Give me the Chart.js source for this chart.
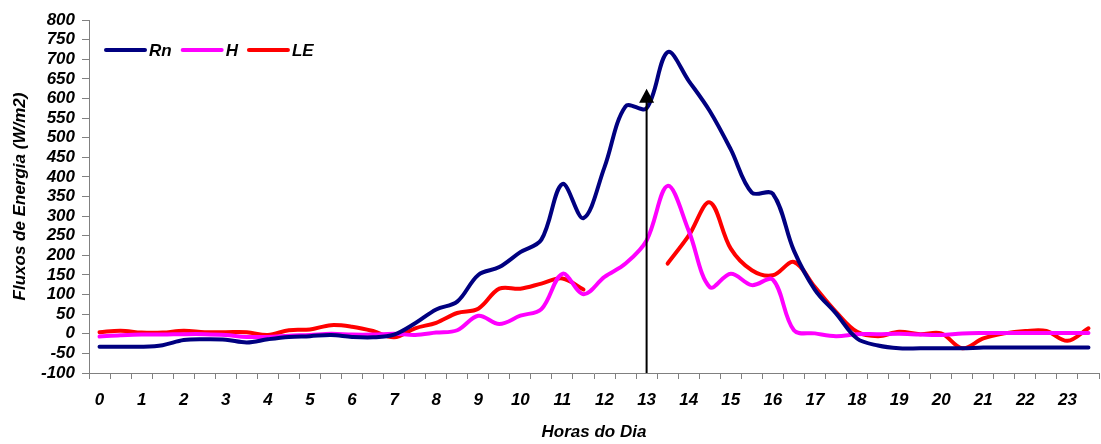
<!DOCTYPE html>
<html>
<head>
<meta charset="utf-8">
<script src="https://cdn.jsdelivr.net/npm/chart.js@4"></script>
<style>
  body { margin: 0; background: #fff; }
  canvas { display: block; }
</style>
</head>
<body>
<canvas id="fluxChart" width="1101" height="444"></canvas>
<script>
// half-hour steps, 0 .. 23.5
let hours = [0,0.5,1,1.5,2,2.5,3,3.5,4,4.5,5,5.5,6,6.5,7,7.5,8,8.5,9,9.5,10,10.5,11,11.5,
             12,12.5,13,13.5,14,14.5,15,15.5,16,16.5,17,17.5,18,18.5,19,19.5,20,20.5,21,21.5,22,22.5,23,23.5];

let rn_data = [-33,-33,-33,-29,-16,-14,-15,-22,-14,-8,-6,-3,-8,-9,-2,27,62,82,150,170,208,240,382,295,
               425,580,575,718,645,568,470,360,357,212,112,52,-12,-30,-37,-37,-37,-37,-35,-35,-35,-35,-35,-35];
let h_data = [-7,-4,-2,-2,-1,-1,-3,-8,-8,-5,-3,0,-2,-2,0,-3,3,9,46,25,46,63,153,101,
              145,179,238,377,263,119,153,124,138,9,1,-6,-1,-1,0,-2,-3,1,2,2,2,2,2,2];
let le_data = [4,8,3,3,8,4,4,4,-3,9,11,22,18,7,-9,14,28,53,64,115,115,128,141,113,
               null,null,null,179,250,335,217,162,149,183,119,56,5,-6,5,-1,1,-37,-12,1,7,7,-18,14];

let series_names = ["Rn", "H", "LE"];
let series_colors = ["#000080", "#ff00ff", "#ff0000"];

let y_min = -100;
let y_max = 800;
let y_step = 50;

// arrow marking 13h
let arrow_hour = 13;
let arrow_top = 625;

let axis_grey = "#808080";
let font_family = "'Liberation Sans', Arial, sans-serif";

Chart.defaults.font.family = font_family;
Chart.defaults.color = "#000";

const legendInside = {
  id: "legendInside",
  afterDraw(chart) {
    const ctx = chart.ctx;
    const area = chart.chartArea;
    let x = area.left + 17;
    const y = area.top + 30;
    ctx.save();
    ctx.font = "italic bold 17px " + font_family;
    ctx.textBaseline = "middle";
    chart.data.datasets.forEach(ds => {
      ctx.strokeStyle = ds.borderColor;
      ctx.lineWidth = 4;
      ctx.lineCap = "round";
      ctx.beginPath();
      ctx.moveTo(x, y);
      ctx.lineTo(x + 39, y);
      ctx.stroke();
      ctx.fillStyle = "#000";
      ctx.fillText(ds.label, x + 43, y + 1);
      x += 43 + ctx.measureText(ds.label).width + 11;
    });
    ctx.restore();
  }
};

const arrowMark = {
  id: "arrowMark",
  afterDatasetsDraw(chart) {
    const ctx = chart.ctx;
    const xs = chart.scales.x;
    const ys = chart.scales.y;
    const px = xs.getPixelForValue(hours.indexOf(arrow_hour));
    const tip = ys.getPixelForValue(arrow_top);
    ctx.save();
    ctx.strokeStyle = "#000";
    ctx.fillStyle = "#000";
    ctx.lineWidth = 2;
    ctx.beginPath();
    ctx.moveTo(px, chart.chartArea.bottom);
    ctx.lineTo(px, tip + 12);
    ctx.stroke();
    ctx.beginPath();
    ctx.moveTo(px, tip);
    ctx.lineTo(px - 7.5, tip + 14);
    ctx.lineTo(px + 7.5, tip + 14);
    ctx.closePath();
    ctx.fill();
    ctx.restore();
  }
};

let tick_font = { size: 17, weight: "bold", style: "italic" };

new Chart("fluxChart", {
  type: "line",
  data: {
    labels: hours,
    datasets: [
      { label: series_names[0], data: rn_data, borderColor: series_colors[0] },
      { label: series_names[1], data: h_data, borderColor: series_colors[1] },
      { label: series_names[2], data: le_data, borderColor: series_colors[2] }
    ]
  },
  options: {
    responsive: false,
    animation: false,
    devicePixelRatio: 1,
    spanGaps: false,
    layout: { padding: { left: 0, right: 2, top: 20, bottom: 0 } },
    elements: {
      line: { borderWidth: 4, tension: 0.35, fill: false, borderCapStyle: "round", borderJoinStyle: "round" },
      point: { radius: 0, hoverRadius: 0 }
    },
    plugins: {
      legend: { display: false },
      tooltip: { enabled: false }
    },
    scales: {
      x: {
        type: "category",
        offset: true,
        afterFit: s => { s.height = 71; },
        grid: { offset: true, drawOnChartArea: false, tickLength: 6, color: axis_grey },
        border: { color: axis_grey, width: 1 },
        ticks: {
          autoSkip: false,
          maxRotation: 0,
          padding: 11,
          font: tick_font,
          callback: (v, i) => hours[i] % 1 === 0 ? String(hours[i]) : ""
        },
        title: {
          display: true,
          text: "Horas do Dia",
          font: tick_font,
          padding: { top: 0, bottom: 1 }
        }
      },
      y: {
        min: y_min,
        max: y_max,
        afterFit: s => { s.width = 89; },
        grid: { drawOnChartArea: false, tickLength: 7, color: axis_grey },
        border: { color: axis_grey, width: 1 },
        ticks: { stepSize: y_step, autoSkip: false, padding: 7, font: tick_font },
        title: {
          display: true,
          text: "Fluxos de Energia (W/m2)",
          font: tick_font,
          padding: { top: 10, bottom: 0 }
        }
      }
    }
  },
  plugins: [arrowMark, legendInside]
});
</script>
</body>
</html>
